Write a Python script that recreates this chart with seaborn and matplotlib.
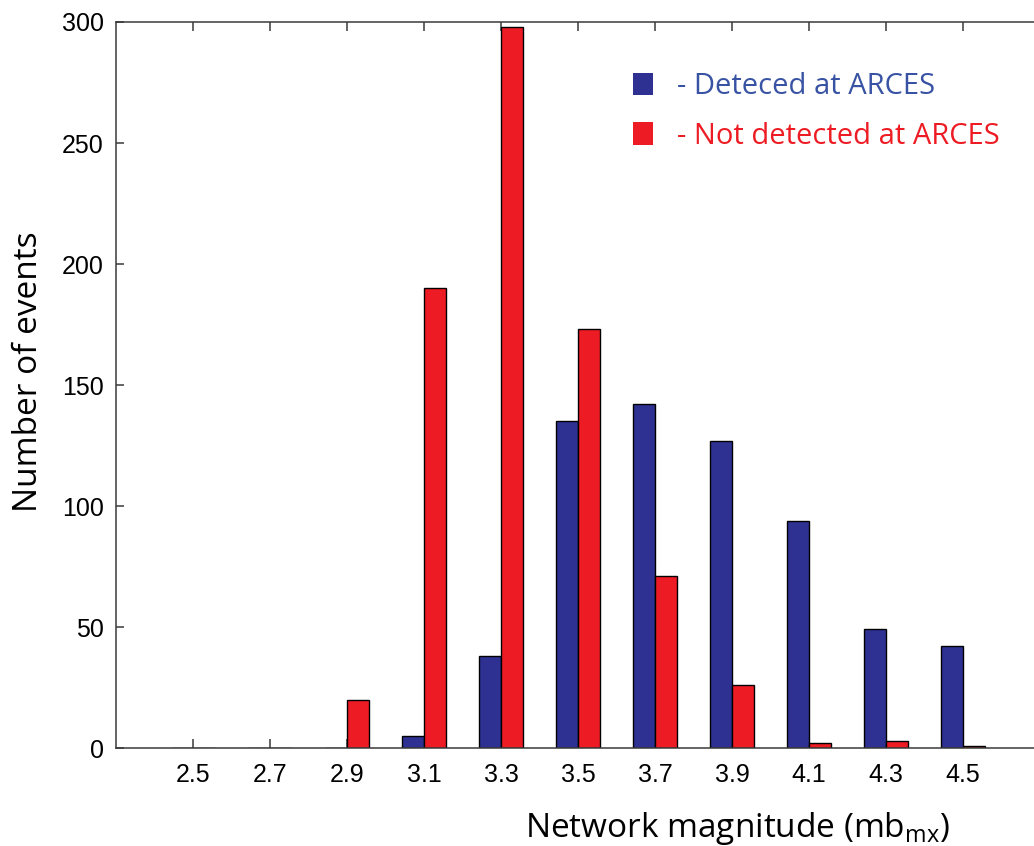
import matplotlib
matplotlib.use("Agg")
import matplotlib.pyplot as plt
from matplotlib.patches import Patch
import seaborn as sns
import pandas as pd

# ------------------------------

MAGNITUDES = [2.5, 2.7, 2.9, 3.1, 3.3, 3.5, 3.7, 3.9, 4.1, 4.3, 4.5]
DETECTED = [0, 0, 0, 5, 38, 135, 142, 127, 94, 49, 42]
NOT_DETECTED = [0, 0, 20, 190, 298, 173, 71, 26, 2, 3, 1]
GROUPS = ["Deteced at ARCES", "Not detected at ARCES"]
Y_TICKS = [0, 50, 100, 150, 200, 250, 300]

BLUE = "#2e3192"
RED = "#ed1c24"
BLUE_TEXT = "#3953a4"
SPINE = "#3a3a3a"

LABEL_FONT = ["Open Sans", "DejaVu Sans"]
TICK_FONT = ["Liberation Sans", "DejaVu Sans"]

DPI = 100
FIGSIZE = (1034 / DPI, 846 / DPI)


def build_frame() -> pd.DataFrame:
    rows = []
    for mag, d, n in zip(MAGNITUDES, DETECTED, NOT_DETECTED):
        rows.append({"mag": mag, "count": d, "group": GROUPS[0]})
        rows.append({"mag": mag, "count": n, "group": GROUPS[1]})
    return pd.DataFrame(rows)


def main():
    sns.set_style("white")
    plt.rcParams["font.family"] = TICK_FONT
    plt.rcParams["mathtext.default"] = "regular"
    plt.rcParams["text.color"] = "black"
    plt.rcParams["axes.labelcolor"] = "black"
    plt.rcParams["xtick.labelcolor"] = "black"
    plt.rcParams["ytick.labelcolor"] = "black"

    df = build_frame()

    fig = plt.figure(figsize=FIGSIZE, dpi=DPI)
    # right spine falls just outside the picture, as in the original
    ax = fig.add_axes([0.1122, 0.1158, 0.8936, 0.8582])

    sns.barplot(data=df, x="mag", y="count", hue="group", native_scale=True,
                palette=[BLUE, RED], width=0.571, gap=0, errorbar=None,
                edgecolor="black", linewidth=1.0, saturation=1, legend=False,
                ax=ax)

    ax.set_xlim(2.3, 4.7)
    ax.set_ylim(0, 300)
    ax.set_xticks(MAGNITUDES)
    ax.set_xticklabels([f"{m:.1f}" for m in MAGNITUDES])
    ax.set_yticks(Y_TICKS)

    for side in ["top", "bottom", "left", "right"]:
        ax.spines[side].set_visible(True)
        ax.spines[side].set_color(SPINE)
        ax.spines[side].set_linewidth(1.1)

    ax.tick_params(axis="x", direction="in", length=6.5, width=1.1,
                   color=SPINE, top=True, bottom=True, labelsize=18, pad=11)
    ax.tick_params(axis="y", direction="in", length=6, width=1.1,
                   color=SPINE, left=True, right=False, labelsize=18, pad=9)

    ax.set_ylabel("Number of events", fontsize=24, family=LABEL_FONT)
    ax.yaxis.set_label_coords(-0.077, 0.518)
    ax.set_xlabel("Network magnitude (mb$_{mx}$)", fontsize=24,
                  family=LABEL_FONT)
    ax.xaxis.set_label_coords(0.673, -0.085)

    handles = [Patch(facecolor=BLUE, edgecolor="none"),
               Patch(facecolor=RED, edgecolor="none")]
    ax.legend(handles, ["- " + g for g in GROUPS], loc="upper left",
              bbox_to_anchor=(0.531, 0.967), frameon=False,
              prop={"family": LABEL_FONT, "size": 21},
              handlelength=0.7, handleheight=0.8, handletextpad=0.8,
              labelspacing=0.7, labelcolor=[BLUE_TEXT, RED])

    fig.savefig("out.png", dpi=DPI)
    plt.close(fig)


if __name__ == "__main__":
    main()
